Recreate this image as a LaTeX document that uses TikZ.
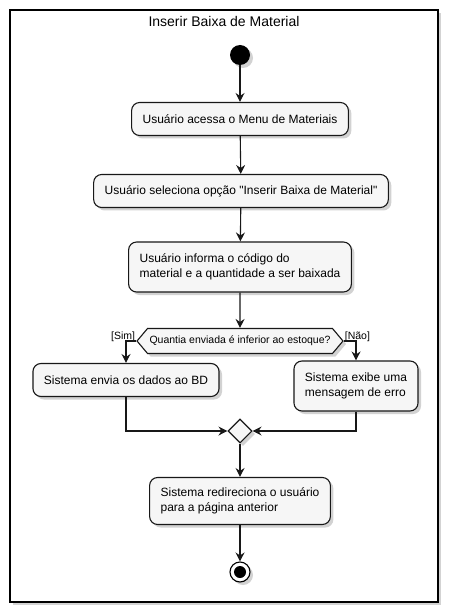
\documentclass[tikz,border=0pt]{standalone}
\usepackage{fontspec}
\setmainfont{Liberation Sans}
\usepackage{tikz}
\usetikzlibrary{arrows.meta,shapes.geometric,shapes.symbols,shadows}

\definecolor{boxfill}{HTML}{F6F6F6}
\definecolor{boxline}{HTML}{181818}

\begin{document}
\begin{tikzpicture}[x=1pt,y=-1pt,
	shad/.style={drop shadow={opacity=0.35,shadow xshift=3pt,shadow yshift=-3pt}},
	act/.style={draw=boxline,fill=boxfill,line width=1.1pt,rounded corners=8pt,shad,
		inner xsep=11pt,inner ysep=0pt,minimum height=33pt,align=left,
		font=\fontsize{12}{15.5}\selectfont},
	arr/.style={draw=boxline,line width=1.1pt,-{Stealth[length=9pt,width=9pt,inset=3pt]}},
	lbl/.style={font=\fontsize{10.5}{12}\selectfont,inner sep=1pt}]
	\useasboundingbox (0,0) rectangle (449,612);
	% frame
	\draw[line width=1.6pt,fill=white,shad] (10,10) rectangle (438,602);
	\node[font=\fontsize{14}{16}\selectfont] (title) at (224,21) {Inserir Baixa de Material};
	% start / stop
	\node[circle,fill=black,minimum size=20pt,inner sep=0pt,shad] (start) at (240,55) {};
	\node[circle,draw=black,line width=1.1pt,fill=white,minimum size=20pt,inner sep=0pt,shad] (stop) at (240,572) {};
	\fill (stop.center) circle (6pt);
	% actions
	\node[act] (acessa) at (240,119) {Usuário acessa o Menu de Materiais};
	\node[act] (seleciona) at (241,191) {Usuário seleciona opção \textquotedbl Inserir Baixa de Material\textquotedbl};
	\node[act,minimum height=50pt] (informa) at (240,267) {Usuário informa o código do\\material e a quantidade a ser baixada};
	\node[draw=boxline,fill=boxfill,line width=1.1pt,shad,signal,signal to=west and east,
		signal pointer angle=100,inner xsep=2pt,inner ysep=0pt,minimum height=25pt,
		font=\fontsize{10.5}{12}\selectfont] (decide) at (240,341) {Quantia enviada é inferior ao estoque?};
	\node[act] (envia) at (126,380) {Sistema envia os dados ao BD};
	\node[act,minimum height=50pt] (erro) at (356,386) {Sistema exibe uma\\mensagem de erro};
	\node[diamond,draw=boxline,fill=boxfill,line width=1.1pt,shad,minimum size=24pt,inner sep=0pt] (junta) at (240,431) {};
	\node[act,minimum height=47pt] (redir) at (240,501) {Sistema redireciona o usuário\\para a página anterior};
	% labels
	\node[lbl,anchor=south east] (sim) at ([yshift=-2pt]decide.west) {[Sim]};
	\node[lbl,anchor=south west] (nao) at ([yshift=-2pt]decide.east) {[Não]};
	% flow
	\draw[arr] (start) -- (acessa);
	\draw[arr] (acessa) -- (seleciona);
	\draw[arr] (seleciona) -- (informa);
	\draw[arr] (informa) -- (decide);
	\draw[arr] (decide.west) -| (envia.north);
	\draw[arr] (decide.east) -| (erro.north);
	\draw[arr] (envia.south) |- (junta.west);
	\draw[arr] (erro.south) |- (junta.east);
	\draw[arr] (junta) -- (redir);
	\draw[arr] (redir) -- (stop);
\end{tikzpicture}
\end{document}
